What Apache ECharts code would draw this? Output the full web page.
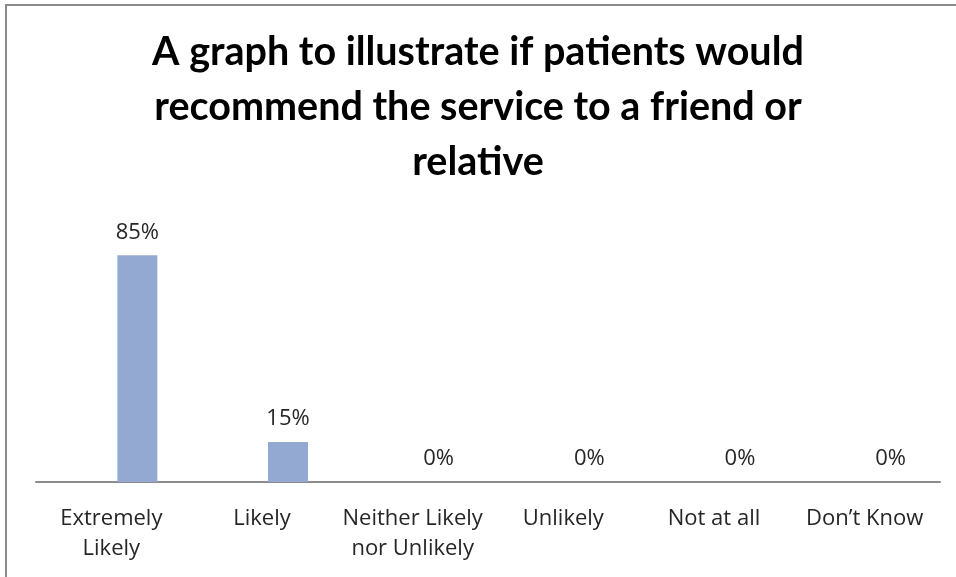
<!DOCTYPE html>
<html>
<head>
<meta charset="utf-8">
<script src="https://cdn.jsdelivr.net/npm/echarts@6/dist/echarts.min.js"></script>
<style>
    html, body { margin: 0; padding: 0; background: #fff; }
    #frame { position: absolute; left: 5px; top: 4px; width: 1000px; height: 620px; border: 2px solid #8a8a8a; }
    #main { position: absolute; left: 0; top: 0; width: 956px; height: 577px; }
</style>
</head>
<body>
<div id="frame"></div>
<div id="main"></div>
<script>
    // survey answers, one bar per answer
    var categories = ['Extremely\nLikely', 'Likely', 'Neither Likely\nnor Unlikely', 'Unlikely', 'Not at all', 'Don\u2019t Know'];
    var percentValues = [85, 15, 0, 0, 0, 0];
    var emptyValues = [null, null, null, null, null, null];
    var titleText = 'A graph to illustrate if patients would\nrecommend the service to a friend or\nrelative';

    var myChart = echarts.init(document.getElementById('main'));

    var titleFont = 'Lato, "Open Sans", sans-serif';
    var labelFont = '"Open Sans", Lato, sans-serif';

    var option = {
        animation: false,
        title: {
            text: titleText,
            left: 'center',
            top: 20,
            textStyle: {
                fontFamily: titleFont,
                fontWeight: 'bold',
                fontSize: 39.5,
                lineHeight: 55,
                color: '#000'
            }
        },
        grid: {
            left: 36,
            right: 16,
            top: 242,
            bottom: 95,
            containLabel: false
        },
        xAxis: {
            type: 'category',
            data: categories,
            axisLine: { lineStyle: { color: '#8c8c8c', width: 2 } },
            axisTick: { show: false },
            axisLabel: {
                interval: 0,
                margin: 22,
                fontFamily: labelFont,
                fontSize: 22,
                lineHeight: 30,
                color: '#262626'
            }
        },
        yAxis: {
            type: 'value',
            min: 0,
            max: 90,
            interval: 10,
            show: false,
            splitLine: { show: false }
        },
        series: [
            {
                // placeholder series, keeps the bars off-centre like the original
                name: 'blank',
                type: 'bar',
                data: emptyValues,
                barWidth: 40,
                barGap: '30%'
            },
            {
                name: 'Percent',
                type: 'bar',
                data: percentValues,
                barWidth: 40,
                barGap: '30%',
                itemStyle: { color: '#94a9d2' },
                label: {
                    show: true,
                    position: 'top',
                    distance: 12,
                    formatter: '{c}%',
                    fontFamily: labelFont,
                    fontSize: 22,
                    color: '#262626'
                }
            }
        ]
    };

    myChart.setOption(option);
</script>
</body>
</html>
